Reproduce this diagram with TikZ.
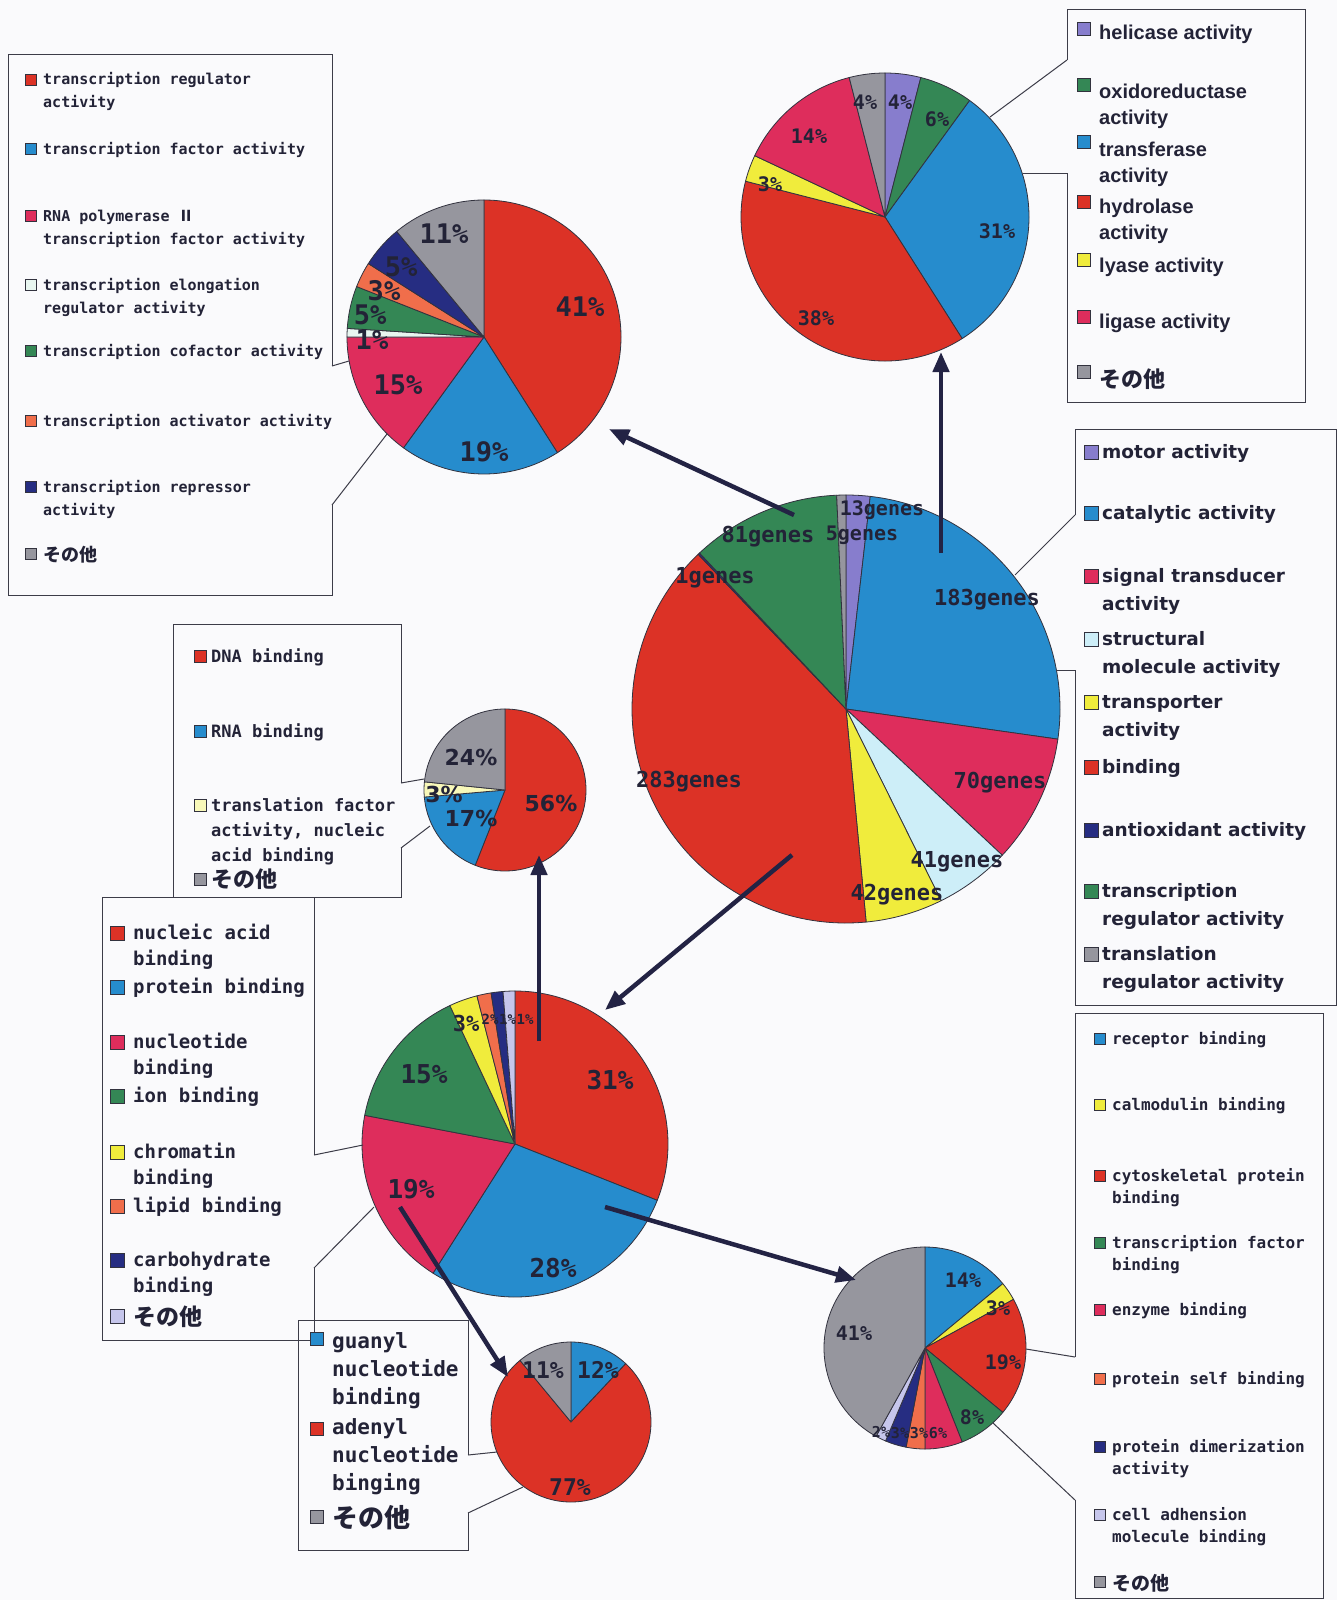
\documentclass[tikz,border=0pt]{standalone}
\usepackage{fontspec}
\setmainfont{DejaVu Sans}
\newfontfamily\mono{DejaVu Sans Mono}
\newfontfamily\dvs{DejaVu Sans}
\newfontfamily\lib{Liberation Sans}
\newfontfamily\jp{Noto Sans CJK JP}
\usetikzlibrary{arrows.meta}
\definecolor{bg}{RGB}{250,250,252}
\definecolor{cred}{RGB}{220,50,38}
\definecolor{cblue}{RGB}{38,140,205}
\definecolor{cpink}{RGB}{222,45,92}
\definecolor{cgreen}{RGB}{52,135,85}
\definecolor{cyellow}{RGB}{240,236,60}
\definecolor{clyellow}{RGB}{248,248,185}
\definecolor{cgray}{RGB}{150,150,158}
\definecolor{clav}{RGB}{135,125,205}
\definecolor{clavl}{RGB}{198,198,236}
\definecolor{ccyan}{RGB}{205,238,248}
\definecolor{cnavy}{RGB}{38,45,130}
\definecolor{corange}{RGB}{240,110,75}
\definecolor{cpale}{RGB}{232,246,240}
\definecolor{cline}{RGB}{50,50,62}
\definecolor{cbox}{RGB}{60,60,72}
\definecolor{carrow}{RGB}{35,35,68}
\definecolor{ctext}{RGB}{35,35,55}
\newcommand{\pslice}[5]{\filldraw[slice,fill=#5] (#1) -- ++({#3-90}:#2) arc[start angle={#3-90}, end angle={#4-90}, radius=#2] -- cycle;}
\newcommand{\lgtwo}[2]{\vtop{\hbox{#1}\hbox{#2}}}
\newcommand{\lgthree}[3]{\vtop{\hbox{#1}\hbox{#2}\hbox{#3}}}
\newcommand{\sonota}[1]{{\jp\bfseries\fontsize{#1}{#1}\selectfont その他}}
\begin{document}
\begin{tikzpicture}[x=1pt,y=-1pt,
 slice/.style={draw=cline,line width=0.8pt,line join=round},
 sq/.style={draw=cline,line width=0.6pt,minimum size=#1,inner sep=0pt,outer sep=0pt,rectangle},
 lt/.style={anchor=base west,inner sep=0pt,text=ctext},
 pl/.style={inner sep=0pt,text=ctext},
 lbox/.style={draw=cbox,line width=1pt,line join=miter},
 ld/.style={draw=cbox,line width=1pt},
 arr/.style={draw=carrow,line width=4.5pt,-{Triangle[length=20pt,width=16pt]}}]
\fill[bg] (0,0) rectangle (1337,1600);
\useasboundingbox (0,0) rectangle (1337,1600);

% ---------- pie centres ----------
\coordinate (pm) at (846,709);
\coordinate (ptl) at (484,337);
\coordinate (ptr) at (885,217);
\coordinate (pdna) at (505,790);
\coordinate (pbm) at (515,1144);
\coordinate (pg) at (571,1422);
\coordinate (pbr) at (925,1348);

% ---------- main pie ----------
\pslice{pm}{214}{0}{6.5}{clav}
\pslice{pm}{214}{6.5}{98.1}{cblue}
\pslice{pm}{214}{98.1}{133.1}{cpink}
\pslice{pm}{214}{133.1}{153.6}{ccyan}
\pslice{pm}{214}{153.6}{174.6}{cyellow}
\pslice{pm}{214}{174.6}{316.3}{cred}
\pslice{pm}{214}{316.3}{316.8}{cnavy}
\pslice{pm}{214}{316.8}{357.5}{cgreen}
\pslice{pm}{214}{357.5}{360}{cgray}
\begin{scope}[font=\mono\bfseries\fontsize{22}{22}\selectfont]
\node[pl,font=\mono\bfseries\fontsize{20}{20}\selectfont] (m13) at (882,510) {13genes};
\node[pl,font=\mono\bfseries\fontsize{20}{20}\selectfont] (m5) at (862,535) {5genes};
\node[pl] (m81) at (768,537) {81genes};
\node[pl] (m1) at (715,578) {1genes};
\node[pl] (m183) at (987,600) {183genes};
\node[pl] (m283) at (689,782) {283genes};
\node[pl] (m70) at (1000,783) {70genes};
\node[pl] (m41) at (957,862) {41genes};
\node[pl] (m42) at (897,895) {42genes};
\end{scope}

% ---------- top-left pie ----------
\pslice{ptl}{137}{0}{147.6}{cred}
\pslice{ptl}{137}{147.6}{216}{cblue}
\pslice{ptl}{137}{216}{270}{cpink}
\pslice{ptl}{137}{270}{273.6}{cpale}
\pslice{ptl}{137}{273.6}{291.6}{cgreen}
\pslice{ptl}{137}{291.6}{302.4}{corange}
\pslice{ptl}{137}{302.4}{320.4}{cnavy}
\pslice{ptl}{137}{320.4}{360}{cgray}
\begin{scope}[font=\mono\bfseries\fontsize{27}{27}\selectfont]
\node[pl] (t41) at (580,307) {41\%};
\node[pl] (t19) at (484,452) {19\%};
\node[pl] (t15) at (398,385) {15\%};
\node[pl] (t11) at (444,234) {11\%};
\node[pl] (t5a) at (401,267) {5\%};
\node[pl] (t3) at (384,291) {3\%};
\node[pl] (t5b) at (370,315) {5\%};
\node[pl] (t1) at (372,340) {1\%};
\end{scope}

% ---------- top-right pie ----------
\pslice{ptr}{144}{0}{14.4}{clav}
\pslice{ptr}{144}{14.4}{36}{cgreen}
\pslice{ptr}{144}{36}{147.6}{cblue}
\pslice{ptr}{144}{147.6}{284.4}{cred}
\pslice{ptr}{144}{284.4}{295.2}{cyellow}
\pslice{ptr}{144}{295.2}{345.6}{cpink}
\pslice{ptr}{144}{345.6}{360}{cgray}
\begin{scope}[font=\mono\bfseries\fontsize{20}{20}\selectfont]
\node[pl] (r4a) at (865,102) {4\%};
\node[pl] (r4b) at (900,102) {4\%};
\node[pl] (r6) at (937,119) {6\%};
\node[pl] (r14) at (809,136) {14\%};
\node[pl] (r3) at (770,184) {3\%};
\node[pl] (r31) at (997,231) {31\%};
\node[pl] (r38) at (816,318) {38\%};
\end{scope}

% ---------- DNA pie ----------
\pslice{pdna}{81}{0}{201.6}{cred}
\pslice{pdna}{81}{201.6}{265}{cblue}
\pslice{pdna}{81}{265}{275.8}{clyellow}
\pslice{pdna}{81}{275.8}{360}{cgray}
\begin{scope}[font=\dvs\bfseries\fontsize{22}{22}\selectfont]
\node[pl] (d24) at (471,757) {24\%};
\node[pl] (d56) at (551,803) {56\%};
\node[pl] (d17) at (471,818) {17\%};
\node[pl] (d3) at (444,794) {3\%};
\end{scope}

% ---------- binding pie ----------
\pslice{pbm}{153}{0}{111.6}{cred}
\pslice{pbm}{153}{111.6}{212.4}{cblue}
\pslice{pbm}{153}{212.4}{280.8}{cpink}
\pslice{pbm}{153}{280.8}{334.8}{cgreen}
\pslice{pbm}{153}{334.8}{345.6}{cyellow}
\pslice{pbm}{153}{345.6}{351}{corange}
\pslice{pbm}{153}{351}{355.5}{cnavy}
\pslice{pbm}{153}{355.5}{360}{clavl}
\begin{scope}[font=\mono\bfseries\fontsize{26}{26}\selectfont]
\node[pl] (b31) at (610,1080) {31\%};
\node[pl] (b28) at (553,1268) {28\%};
\node[pl] (b19) at (411,1189) {19\%};
\node[pl] (b15) at (424,1074) {15\%};
\end{scope}
\node[pl,font=\mono\bfseries\fontsize{22}{22}\selectfont] (b3) at (466,1023) {3\%};
\begin{scope}[font=\mono\bfseries\fontsize{14}{14}\selectfont]
\node[pl] (b2) at (490,1019) {2\%};
\node[pl] (b1a) at (507.5,1019) {1\%};
\node[pl] (b1b) at (525,1019) {1\%};
\end{scope}

% ---------- nucleotide pie ----------
\pslice{pg}{80}{0}{43.2}{cblue}
\pslice{pg}{80}{43.2}{320.4}{cred}
\pslice{pg}{80}{320.4}{360}{cgray}
\begin{scope}[font=\mono\bfseries\fontsize{23}{23}\selectfont]
\node[pl] (g11) at (543,1370) {11\%};
\node[pl] (g12) at (598,1370) {12\%};
\node[pl] (g77) at (570,1487) {77\%};
\end{scope}

% ---------- protein pie ----------
\pslice{pbr}{101}{0}{50.4}{cblue}
\pslice{pbr}{101}{50.4}{61.2}{cyellow}
\pslice{pbr}{101}{61.2}{129.6}{cred}
\pslice{pbr}{101}{129.6}{158.4}{cgreen}
\pslice{pbr}{101}{158.4}{180}{cpink}
\pslice{pbr}{101}{180}{190.8}{corange}
\pslice{pbr}{101}{190.8}{203}{cnavy}
\pslice{pbr}{101}{203}{209}{clavl}
\pslice{pbr}{101}{209}{360}{cgray}
\begin{scope}[font=\mono\bfseries\fontsize{20}{20}\selectfont]
\node[pl] (p14) at (963,1280) {14\%};
\node[pl] (p3a) at (998,1308) {3\%};
\node[pl] (p19) at (1003,1362) {19\%};
\node[pl] (p8) at (972,1417) {8\%};
\node[pl] (p41) at (854,1333) {41\%};
\end{scope}
\begin{scope}[font=\mono\bfseries\fontsize{15}{15}\selectfont]
\node[pl] (p2) at (881,1432) {2\%};
\node[pl] (p3b) at (900,1433) {3\%};
\node[pl] (p3c) at (919,1433) {3\%};
\node[pl] (p6) at (938,1433) {6\%};
\end{scope}

% ---------- legend boxes (side facing the pie left open) ----------
\coordinate (tlA) at (332,366); \coordinate (tlB) at (332,505);
\coordinate (trA) at (1067,60); \coordinate (trB) at (1067,173);
\coordinate (mA) at (1075,515); \coordinate (mB) at (1075,670);
\coordinate (dA) at (401,783); \coordinate (dB) at (401,848);
\coordinate (nA) at (314,1155); \coordinate (nB) at (314,1268);
\coordinate (gA) at (468,1455); \coordinate (gB) at (468,1513);
\coordinate (brA) at (1075,1357); \coordinate (brB) at (1075,1500);

\draw[lbox] (tlA) -- (332,55) -- (8,55) -- (8,595) -- (332,595) -- (tlB);
\draw[lbox] (trA) -- (1067,10) -- (1305,10) -- (1305,402) -- (1067,402) -- (trB);
\draw[lbox] (mA) -- (1075,429) -- (1336,429) -- (1336,1005) -- (1075,1005) -- (mB);
\draw[lbox] (dA) -- (401,624) -- (173,624) -- (173,897) -- (401,897) -- (dB);
\draw[lbox] (nA) -- (314,897) -- (102,897) -- (102,1340) -- (314,1340) -- (nB);
\draw[lbox] (gA) -- (468,1320) -- (298,1320) -- (298,1550) -- (468,1550) -- (gB);
\draw[lbox] (brA) -- (1075,1013) -- (1323,1013) -- (1323,1598) -- (1075,1598) -- (brB);

% ---------- leader lines to the pies ----------
\coordinate (tlP1) at (349,361); \coordinate (tlP2) at (387,434);
\coordinate (trP1) at (990,117); \coordinate (trP2) at (1023,173);
\coordinate (mP1) at (1015,575); \coordinate (mP2) at (1056,670);
\coordinate (dP1) at (424,779); \coordinate (dP2) at (430,826);
\coordinate (nP1) at (363,1145); \coordinate (nP2) at (374,1207);
\coordinate (gP1) at (497,1452); \coordinate (gP2) at (523,1487);
\coordinate (brP1) at (1026,1349); \coordinate (brP2) at (993,1423);
\draw[ld] (tlA) -- (tlP1); \draw[ld] (tlB) -- (tlP2);
\draw[ld] (trA) -- (trP1); \draw[ld] (trB) -- (trP2);
\draw[ld] (mA) -- (mP1); \draw[ld] (mB) -- (mP2);
\draw[ld] (dA) -- (dP1); \draw[ld] (dB) -- (dP2);
\draw[ld] (nA) -- (nP1); \draw[ld] (nB) -- (nP2);
\draw[ld] (gA) -- (gP1); \draw[ld] (gB) -- (gP2);
\draw[ld] (brA) -- (brP1); \draw[ld] (brB) -- (brP2);

% ---------- legend: transcription regulator ----------
\begin{scope}[font=\mono\bfseries\fontsize{15}{23}\selectfont]
\node[sq=11pt,fill=cred] (tlq1) at (31,80) {};
\node[lt] (tll1) at (43,85) {\lgtwo{transcription regulator}{activity}};
\node[sq=11pt,fill=cblue] (tlq2) at (31,149) {};
\node[lt] (tll2) at (43,154) {transcription factor activity};
\node[sq=11pt,fill=cpink] (tlq3) at (31,216) {};
\node[lt] (tll3) at (43,221) {\lgtwo{RNA polymerase {\jp\bfseries Ⅱ}}{transcription factor activity}};
\node[sq=11pt,fill=cpale] (tlq4) at (31,285) {};
\node[lt] (tll4) at (43,290) {\lgtwo{transcription elongation}{regulator activity}};
\node[sq=11pt,fill=cgreen] (tlq5) at (31,351) {};
\node[lt] (tll5) at (43,356) {transcription cofactor activity};
\node[sq=11pt,fill=corange] (tlq6) at (31,421) {};
\node[lt] (tll6) at (43,426) {transcription activator activity};
\node[sq=11pt,fill=cnavy] (tlq7) at (31,487) {};
\node[lt] (tll7) at (43,492) {\lgtwo{transcription repressor}{activity}};
\node[sq=11pt,fill=cgray] (tlq8) at (31,554) {};
\node[lt] (tll8) at (43,561) {\sonota{18}};
\end{scope}

% ---------- legend: catalytic ----------
\begin{scope}[font=\lib\bfseries\fontsize{20}{26}\selectfont]
\node[sq=13pt,fill=clav] (trq1) at (1084,28.5) {};
\node[lt] (trl1) at (1099,40) {helicase activity};
\node[sq=13pt,fill=cgreen] (trq2) at (1084,84.5) {};
\node[lt] (trl2) at (1099,99) {\lgtwo{oxidoreductase}{activity}};
\node[sq=13pt,fill=cblue] (trq3) at (1084,141.5) {};
\node[lt] (trl3) at (1099,157) {\lgtwo{transferase}{activity}};
\node[sq=13pt,fill=cred] (trq4) at (1084,201.5) {};
\node[lt] (trl4) at (1099,213) {\lgtwo{hydrolase}{activity}};
\node[sq=13pt,fill=cyellow] (trq5) at (1084,259.5) {};
\node[lt] (trl5) at (1099,272) {lyase activity};
\node[sq=13pt,fill=cpink] (trq6) at (1084,316.5) {};
\node[lt] (trl6) at (1099,328) {ligase activity};
\node[sq=13pt,fill=cgray] (trq7) at (1084,371.5) {};
\node[lt] (trl7) at (1099,387) {\sonota{22}};
\end{scope}

% ---------- legend: main ----------
\begin{scope}[font=\dvs\bfseries\fontsize{18.5}{28}\selectfont]
\node[sq=14pt,fill=clav] (mq1) at (1091,452) {};
\node[lt] (ml1) at (1102,458) {motor activity};
\node[sq=14pt,fill=cblue] (mq2) at (1091,513) {};
\node[lt] (ml2) at (1102,519) {catalytic activity};
\node[sq=14pt,fill=cpink] (mq3) at (1091,576) {};
\node[lt] (ml3) at (1102,582) {\lgtwo{signal transducer}{activity}};
\node[sq=14pt,fill=ccyan] (mq4) at (1091,639) {};
\node[lt] (ml4) at (1102,645) {\lgtwo{structural}{molecule activity}};
\node[sq=14pt,fill=cyellow] (mq5) at (1091,702) {};
\node[lt] (ml5) at (1102,708) {\lgtwo{transporter}{activity}};
\node[sq=14pt,fill=cred] (mq6) at (1091,767) {};
\node[lt] (ml6) at (1102,773) {binding};
\node[sq=14pt,fill=cnavy] (mq7) at (1091,830) {};
\node[lt] (ml7) at (1102,836) {antioxidant activity};
\node[sq=14pt,fill=cgreen] (mq8) at (1091,891) {};
\node[lt] (ml8) at (1102,897) {\lgtwo{transcription}{regulator activity}};
\node[sq=14pt,fill=cgray] (mq9) at (1091,954) {};
\node[lt] (ml9) at (1102,960) {\lgtwo{translation}{regulator activity}};
\end{scope}

% ---------- legend: nucleic acid binding ----------
\begin{scope}[font=\mono\bfseries\fontsize{17}{25}\selectfont]
\node[sq=12pt,fill=cred] (dq1) at (200,656) {};
\node[lt] (dl1) at (211,662) {DNA binding};
\node[sq=12pt,fill=cblue] (dq2) at (200,731) {};
\node[lt] (dl2) at (211,737) {RNA binding};
\node[sq=12pt,fill=clyellow] (dq3) at (200,805) {};
\node[lt] (dl3) at (211,811) {\lgthree{translation factor}{activity, nucleic}{acid binding}};
\node[sq=12pt,fill=cgray] (dq4) at (200,879) {};
\node[lt] (dl4) at (211,887) {\sonota{22}};
\end{scope}

% ---------- legend: binding ----------
\begin{scope}[font=\mono\bfseries\fontsize{19}{26.5}\selectfont]
\node[sq=14pt,fill=cred] (nq1) at (117,933) {};
\node[lt] (nl1) at (133,939) {\lgtwo{nucleic acid}{binding}};
\node[sq=14pt,fill=cblue] (nq2) at (117,987) {};
\node[lt] (nl2) at (133,993) {protein binding};
\node[sq=14pt,fill=cpink] (nq3) at (117,1042) {};
\node[lt] (nl3) at (133,1048) {\lgtwo{nucleotide}{binding}};
\node[sq=14pt,fill=cgreen] (nq4) at (117,1096) {};
\node[lt] (nl4) at (133,1102) {ion binding};
\node[sq=14pt,fill=cyellow] (nq5) at (117,1152) {};
\node[lt] (nl5) at (133,1158) {\lgtwo{chromatin}{binding}};
\node[sq=14pt,fill=corange] (nq6) at (117,1206) {};
\node[lt] (nl6) at (133,1212) {lipid binding};
\node[sq=14pt,fill=cnavy] (nq7) at (117,1260) {};
\node[lt] (nl7) at (133,1266) {\lgtwo{carbohydrate}{binding}};
\node[sq=14pt,fill=clavl] (nq8) at (117,1316) {};
\node[lt] (nl8) at (133,1325) {\sonota{23}};
\end{scope}

% ---------- legend: nucleotide binding ----------
\begin{scope}[font=\mono\bfseries\fontsize{21}{28}\selectfont]
\node[sq=13pt,fill=cblue] (gq1) at (316.5,1338.5) {};
\node[lt] (gl1) at (332,1348) {\lgthree{guanyl}{nucleotide}{binding}};
\node[sq=13pt,fill=cred] (gq2) at (316.5,1428.5) {};
\node[lt] (gl2) at (332,1434) {\lgthree{adenyl}{nucleotide}{binging}};
\node[sq=13pt,fill=cgray] (gq3) at (316.5,1516.5) {};
\node[lt] (gl3) at (332,1527) {\sonota{26}};
\end{scope}

% ---------- legend: protein binding ----------
\begin{scope}[font=\mono\bfseries\fontsize{16}{22}\selectfont]
\node[sq=10.5pt,fill=cblue] (bq1) at (1100,1039) {};
\node[lt] (bl1) at (1112,1044.5) {receptor binding};
\node[sq=10.5pt,fill=cyellow] (bq2) at (1100,1105) {};
\node[lt] (bl2) at (1112,1110.5) {calmodulin binding};
\node[sq=10.5pt,fill=cred] (bq3) at (1100,1176) {};
\node[lt] (bl3) at (1112,1181.5) {\lgtwo{cytoskeletal protein}{binding}};
\node[sq=10.5pt,fill=cgreen] (bq4) at (1100,1243) {};
\node[lt] (bl4) at (1112,1248.5) {\lgtwo{transcription factor}{binding}};
\node[sq=10.5pt,fill=cpink] (bq5) at (1100,1310) {};
\node[lt] (bl5) at (1112,1315.5) {enzyme binding};
\node[sq=10.5pt,fill=corange] (bq6) at (1100,1379) {};
\node[lt] (bl6) at (1112,1384.5) {protein self binding};
\node[sq=10.5pt,fill=cnavy] (bq7) at (1100,1447) {};
\node[lt] (bl7) at (1112,1452.5) {\lgtwo{protein dimerization}{activity}};
\node[sq=10.5pt,fill=clavl] (bq8) at (1100,1515) {};
\node[lt] (bl8) at (1112,1520.5) {\lgtwo{cell adhension}{molecule binding}};
\node[sq=10.5pt,fill=cgray] (bq9) at (1100,1582) {};
\node[lt] (bl9) at (1112,1590) {\sonota{19}};
\end{scope}

% ---------- arrows between pies ----------
\coordinate (a1s) at (794,515); \coordinate (a1e) at (609,429);
\coordinate (a2s) at (941,553); \coordinate (a2e) at (941,352);
\coordinate (a3s) at (792,855); \coordinate (a3e) at (605,1010);
\coordinate (a4s) at (539,1041); \coordinate (a4e) at (539,855);
\coordinate (a5s) at (400,1207); \coordinate (a5e) at (508,1377);
\coordinate (a6s) at (605,1207); \coordinate (a6e) at (856,1280);
\draw[arr] (a1s) -- (a1e);
\draw[arr] (a2s) -- (a2e);
\draw[arr] (a3s) -- (a3e);
\draw[arr] (a4s) -- (a4e);
\draw[arr] (a5s) -- (a5e);
\draw[arr] (a6s) -- (a6e);
\end{tikzpicture}
\end{document}
